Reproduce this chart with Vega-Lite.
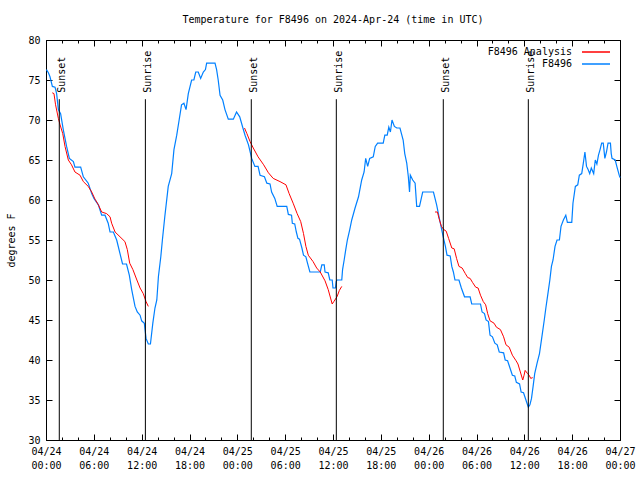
{
  "$schema": "https://vega.github.io/schema/vega-lite/v6.json",
  "width": 574,
  "height": 400,
  "autosize": "none",
  "padding": {"left": 46, "top": 40, "right": 20, "bottom": 40},
  "background": "white",
  "title": {"text": "Temperature for F8496 on 2024-Apr-24 (time in UTC)", "font": "DejaVu Sans Mono", "fontSize": 10, "fontWeight": "normal", "color": "black", "offset": 10, "anchor": "middle", "frame": "group"},
  "config": {
    "font": "DejaVu Sans Mono",
    "view": {"stroke": "black", "strokeWidth": 1},
    "axis": {"grid": false, "domain": false, "tickColor": "black", "tickWidth": 1, "labelFont": "DejaVu Sans Mono", "labelFontSize": 10, "labelColor": "black", "titleFont": "DejaVu Sans Mono", "titleFontSize": 10, "titleFontWeight": "normal", "titleColor": "black"}
  },
  "datasets": {
    "blue": [
      {"s":"F8496","t":"2024-04-24T00:03:00Z","v":76.3},{"s":"F8496","t":"2024-04-24T00:18:00Z","v":75.9},{"s":"F8496","t":"2024-04-24T00:30:00Z","v":75.4},{"s":"F8496","t":"2024-04-24T00:48:00Z","v":74.2},{"s":"F8496","t":"2024-04-24T01:08:00Z","v":74.1},{"s":"F8496","t":"2024-04-24T01:20:00Z","v":73.3},{"s":"F8496","t":"2024-04-24T01:33:00Z","v":71.3},{"s":"F8496","t":"2024-04-24T01:50:00Z","v":70.8},{"s":"F8496","t":"2024-04-24T02:10:00Z","v":68.8},{"s":"F8496","t":"2024-04-24T02:35:00Z","v":66.7},{"s":"F8496","t":"2024-04-24T02:56:00Z","v":65.2},{"s":"F8496","t":"2024-04-24T03:26:00Z","v":64.8},{"s":"F8496","t":"2024-04-24T03:38:00Z","v":64.1},{"s":"F8496","t":"2024-04-24T04:21:00Z","v":64.1},{"s":"F8496","t":"2024-04-24T04:41:00Z","v":62.9},{"s":"F8496","t":"2024-04-24T05:18:00Z","v":62.1},{"s":"F8496","t":"2024-04-24T05:44:00Z","v":60.8},{"s":"F8496","t":"2024-04-24T06:01:00Z","v":60.2},{"s":"F8496","t":"2024-04-24T06:34:00Z","v":59.4},{"s":"F8496","t":"2024-04-24T06:59:00Z","v":58.1},{"s":"F8496","t":"2024-04-24T07:24:00Z","v":58.1},{"s":"F8496","t":"2024-04-24T07:48:00Z","v":57.1},{"s":"F8496","t":"2024-04-24T08:02:00Z","v":56.0},{"s":"F8496","t":"2024-04-24T08:27:00Z","v":56.0},{"s":"F8496","t":"2024-04-24T08:52:00Z","v":55.0},{"s":"F8496","t":"2024-04-24T09:17:00Z","v":53.3},{"s":"F8496","t":"2024-04-24T09:36:00Z","v":52.0},{"s":"F8496","t":"2024-04-24T10:06:00Z","v":52.0},{"s":"F8496","t":"2024-04-24T10:27:00Z","v":50.6},{"s":"F8496","t":"2024-04-24T10:45:00Z","v":48.8},{"s":"F8496","t":"2024-04-24T11:10:00Z","v":46.7},{"s":"F8496","t":"2024-04-24T11:27:00Z","v":46.0},{"s":"F8496","t":"2024-04-24T11:48:00Z","v":45.6},{"s":"F8496","t":"2024-04-24T12:00:00Z","v":44.9},{"s":"F8496","t":"2024-04-24T12:20:00Z","v":44.6},{"s":"F8496","t":"2024-04-24T12:33:00Z","v":42.7},{"s":"F8496","t":"2024-04-24T12:50:00Z","v":42.0},{"s":"F8496","t":"2024-04-24T13:06:00Z","v":42.0},{"s":"F8496","t":"2024-04-24T13:24:00Z","v":44.6},{"s":"F8496","t":"2024-04-24T13:40:00Z","v":46.5},{"s":"F8496","t":"2024-04-24T13:54:00Z","v":47.5},{"s":"F8496","t":"2024-04-24T14:06:00Z","v":50.4},{"s":"F8496","t":"2024-04-24T14:24:00Z","v":52.9},{"s":"F8496","t":"2024-04-24T14:36:00Z","v":55.0},{"s":"F8496","t":"2024-04-24T14:54:00Z","v":57.9},{"s":"F8496","t":"2024-04-24T15:20:00Z","v":61.7},{"s":"F8496","t":"2024-04-24T15:46:00Z","v":63.3},{"s":"F8496","t":"2024-04-24T16:03:00Z","v":66.3},{"s":"F8496","t":"2024-04-24T16:24:00Z","v":68.1},{"s":"F8496","t":"2024-04-24T16:42:00Z","v":70.0},{"s":"F8496","t":"2024-04-24T17:00:00Z","v":71.9},{"s":"F8496","t":"2024-04-24T17:18:00Z","v":72.1},{"s":"F8496","t":"2024-04-24T17:34:00Z","v":71.3},{"s":"F8496","t":"2024-04-24T17:51:00Z","v":73.3},{"s":"F8496","t":"2024-04-24T18:16:00Z","v":75.0},{"s":"F8496","t":"2024-04-24T18:33:00Z","v":75.0},{"s":"F8496","t":"2024-04-24T18:47:00Z","v":76.0},{"s":"F8496","t":"2024-04-24T19:06:00Z","v":76.0},{"s":"F8496","t":"2024-04-24T19:24:00Z","v":75.2},{"s":"F8496","t":"2024-04-24T19:44:00Z","v":76.0},{"s":"F8496","t":"2024-04-24T20:00:00Z","v":76.3},{"s":"F8496","t":"2024-04-24T20:09:00Z","v":77.1},{"s":"F8496","t":"2024-04-24T21:12:00Z","v":77.1},{"s":"F8496","t":"2024-04-24T21:24:00Z","v":76.3},{"s":"F8496","t":"2024-04-24T21:36:00Z","v":75.0},{"s":"F8496","t":"2024-04-24T21:50:00Z","v":73.1},{"s":"F8496","t":"2024-04-24T22:10:00Z","v":72.5},{"s":"F8496","t":"2024-04-24T22:27:00Z","v":71.3},{"s":"F8496","t":"2024-04-24T22:52:00Z","v":70.1},{"s":"F8496","t":"2024-04-24T23:30:00Z","v":70.1},{"s":"F8496","t":"2024-04-24T23:54:00Z","v":71.0},
      {"s":"F8496","t":"2024-04-25T00:18:00Z","v":70.4},{"s":"F8496","t":"2024-04-25T00:42:00Z","v":69.0},{"s":"F8496","t":"2024-04-25T00:58:00Z","v":68.1},{"s":"F8496","t":"2024-04-25T01:24:00Z","v":66.9},{"s":"F8496","t":"2024-04-25T01:48:00Z","v":65.2},{"s":"F8496","t":"2024-04-25T02:12:00Z","v":64.2},{"s":"F8496","t":"2024-04-25T02:36:00Z","v":64.2},{"s":"F8496","t":"2024-04-25T02:51:00Z","v":63.1},{"s":"F8496","t":"2024-04-25T03:24:00Z","v":62.9},{"s":"F8496","t":"2024-04-25T03:42:00Z","v":62.1},{"s":"F8496","t":"2024-04-25T04:06:00Z","v":62.0},{"s":"F8496","t":"2024-04-25T04:18:00Z","v":61.0},{"s":"F8496","t":"2024-04-25T04:42:00Z","v":60.2},{"s":"F8496","t":"2024-04-25T05:00:00Z","v":59.2},{"s":"F8496","t":"2024-04-25T06:12:00Z","v":59.2},{"s":"F8496","t":"2024-04-25T06:24:00Z","v":58.2},{"s":"F8496","t":"2024-04-25T06:48:00Z","v":58.1},{"s":"F8496","t":"2024-04-25T06:54:00Z","v":57.1},{"s":"F8496","t":"2024-04-25T07:12:00Z","v":57.0},{"s":"F8496","t":"2024-04-25T07:24:00Z","v":56.0},{"s":"F8496","t":"2024-04-25T07:36:00Z","v":55.2},{"s":"F8496","t":"2024-04-25T07:48:00Z","v":55.1},{"s":"F8496","t":"2024-04-25T08:06:00Z","v":54.0},{"s":"F8496","t":"2024-04-25T08:18:00Z","v":53.1},{"s":"F8496","t":"2024-04-25T08:36:00Z","v":52.9},{"s":"F8496","t":"2024-04-25T08:48:00Z","v":52.1},{"s":"F8496","t":"2024-04-25T09:06:00Z","v":51.0},{"s":"F8496","t":"2024-04-25T10:24:00Z","v":51.0},{"s":"F8496","t":"2024-04-25T10:36:00Z","v":51.9},{"s":"F8496","t":"2024-04-25T10:54:00Z","v":51.9},{"s":"F8496","t":"2024-04-25T11:00:00Z","v":51.0},{"s":"F8496","t":"2024-04-25T11:24:00Z","v":50.9},{"s":"F8496","t":"2024-04-25T11:36:00Z","v":50.0},{"s":"F8496","t":"2024-04-25T11:54:00Z","v":50.0},{"s":"F8496","t":"2024-04-25T12:00:00Z","v":49.0},{"s":"F8496","t":"2024-04-25T12:18:00Z","v":49.0},{"s":"F8496","t":"2024-04-25T12:24:00Z","v":49.8},{"s":"F8496","t":"2024-04-25T12:30:00Z","v":50.0},{"s":"F8496","t":"2024-04-25T13:06:00Z","v":50.0},{"s":"F8496","t":"2024-04-25T13:12:00Z","v":51.3},{"s":"F8496","t":"2024-04-25T13:24:00Z","v":52.5},{"s":"F8496","t":"2024-04-25T13:36:00Z","v":53.8},{"s":"F8496","t":"2024-04-25T13:48:00Z","v":55.0},{"s":"F8496","t":"2024-04-25T14:06:00Z","v":56.3},{"s":"F8496","t":"2024-04-25T14:21:00Z","v":57.5},{"s":"F8496","t":"2024-04-25T14:46:00Z","v":59.0},{"s":"F8496","t":"2024-04-25T15:12:00Z","v":60.4},{"s":"F8496","t":"2024-04-25T15:36:00Z","v":62.5},{"s":"F8496","t":"2024-04-25T15:54:00Z","v":63.5},{"s":"F8496","t":"2024-04-25T16:06:00Z","v":65.2},{"s":"F8496","t":"2024-04-25T16:21:00Z","v":64.2},{"s":"F8496","t":"2024-04-25T16:36:00Z","v":65.2},{"s":"F8496","t":"2024-04-25T17:03:00Z","v":65.4},{"s":"F8496","t":"2024-04-25T17:18:00Z","v":66.7},{"s":"F8496","t":"2024-04-25T17:36:00Z","v":67.1},{"s":"F8496","t":"2024-04-25T18:18:00Z","v":67.1},{"s":"F8496","t":"2024-04-25T18:30:00Z","v":68.1},{"s":"F8496","t":"2024-04-25T18:48:00Z","v":68.1},{"s":"F8496","t":"2024-04-25T19:00:00Z","v":69.1},{"s":"F8496","t":"2024-04-25T19:12:00Z","v":68.5},{"s":"F8496","t":"2024-04-25T19:24:00Z","v":70.0},{"s":"F8496","t":"2024-04-25T19:42:00Z","v":69.2},{"s":"F8496","t":"2024-04-25T20:00:00Z","v":69.0},{"s":"F8496","t":"2024-04-25T20:24:00Z","v":69.0},{"s":"F8496","t":"2024-04-25T20:48:00Z","v":67.5},{"s":"F8496","t":"2024-04-25T21:00:00Z","v":65.8},{"s":"F8496","t":"2024-04-25T21:15:00Z","v":64.6},{"s":"F8496","t":"2024-04-25T21:27:00Z","v":62.9},{"s":"F8496","t":"2024-04-25T21:36:00Z","v":61.0},{"s":"F8496","t":"2024-04-25T21:42:00Z","v":63.1},{"s":"F8496","t":"2024-04-25T22:00:00Z","v":62.5},{"s":"F8496","t":"2024-04-25T22:18:00Z","v":62.1},{"s":"F8496","t":"2024-04-25T22:30:00Z","v":59.2},{"s":"F8496","t":"2024-04-25T22:51:00Z","v":59.2},{"s":"F8496","t":"2024-04-25T23:15:00Z","v":61.0},
      {"s":"F8496","t":"2024-04-26T00:36:00Z","v":61.0},{"s":"F8496","t":"2024-04-26T01:00:00Z","v":59.4},{"s":"F8496","t":"2024-04-26T01:18:00Z","v":57.9},{"s":"F8496","t":"2024-04-26T01:33:00Z","v":56.7},{"s":"F8496","t":"2024-04-26T01:48:00Z","v":55.5},{"s":"F8496","t":"2024-04-26T02:06:00Z","v":54.2},{"s":"F8496","t":"2024-04-26T02:18:00Z","v":53.1},{"s":"F8496","t":"2024-04-26T02:42:00Z","v":53.0},{"s":"F8496","t":"2024-04-26T02:54:00Z","v":51.7},{"s":"F8496","t":"2024-04-26T03:06:00Z","v":51.0},{"s":"F8496","t":"2024-04-26T03:18:00Z","v":50.0},{"s":"F8496","t":"2024-04-26T03:48:00Z","v":50.0},{"s":"F8496","t":"2024-04-26T04:06:00Z","v":49.0},{"s":"F8496","t":"2024-04-26T04:30:00Z","v":47.9},{"s":"F8496","t":"2024-04-26T05:12:00Z","v":47.9},{"s":"F8496","t":"2024-04-26T05:24:00Z","v":47.0},{"s":"F8496","t":"2024-04-26T06:30:00Z","v":47.0},{"s":"F8496","t":"2024-04-26T06:42:00Z","v":46.0},{"s":"F8496","t":"2024-04-26T07:00:00Z","v":45.8},{"s":"F8496","t":"2024-04-26T07:12:00Z","v":45.0},{"s":"F8496","t":"2024-04-26T07:30:00Z","v":44.8},{"s":"F8496","t":"2024-04-26T07:42:00Z","v":43.1},{"s":"F8496","t":"2024-04-26T08:00:00Z","v":42.9},{"s":"F8496","t":"2024-04-26T08:18:00Z","v":42.1},{"s":"F8496","t":"2024-04-26T08:36:00Z","v":41.9},{"s":"F8496","t":"2024-04-26T08:51:00Z","v":41.0},{"s":"F8496","t":"2024-04-26T09:24:00Z","v":40.9},{"s":"F8496","t":"2024-04-26T09:36:00Z","v":40.0},{"s":"F8496","t":"2024-04-26T09:54:00Z","v":39.9},{"s":"F8496","t":"2024-04-26T10:12:00Z","v":39.0},{"s":"F8496","t":"2024-04-26T10:30:00Z","v":38.1},{"s":"F8496","t":"2024-04-26T10:48:00Z","v":38.0},{"s":"F8496","t":"2024-04-26T11:00:00Z","v":37.2},{"s":"F8496","t":"2024-04-26T11:24:00Z","v":37.0},{"s":"F8496","t":"2024-04-26T11:36:00Z","v":36.0},{"s":"F8496","t":"2024-04-26T11:54:00Z","v":35.9},{"s":"F8496","t":"2024-04-26T12:12:00Z","v":35.0},{"s":"F8496","t":"2024-04-26T12:30:00Z","v":34.1},{"s":"F8496","t":"2024-04-26T12:42:00Z","v":34.4},{"s":"F8496","t":"2024-04-26T12:54:00Z","v":35.2},{"s":"F8496","t":"2024-04-26T13:06:00Z","v":36.7},{"s":"F8496","t":"2024-04-26T13:18:00Z","v":38.3},{"s":"F8496","t":"2024-04-26T13:36:00Z","v":39.6},{"s":"F8496","t":"2024-04-26T13:54:00Z","v":40.8},{"s":"F8496","t":"2024-04-26T14:12:00Z","v":42.9},{"s":"F8496","t":"2024-04-26T14:30:00Z","v":45.0},{"s":"F8496","t":"2024-04-26T14:42:00Z","v":46.5},{"s":"F8496","t":"2024-04-26T14:54:00Z","v":47.9},{"s":"F8496","t":"2024-04-26T15:12:00Z","v":50.0},{"s":"F8496","t":"2024-04-26T15:24:00Z","v":51.7},{"s":"F8496","t":"2024-04-26T15:36:00Z","v":52.5},{"s":"F8496","t":"2024-04-26T15:51:00Z","v":54.2},{"s":"F8496","t":"2024-04-26T16:06:00Z","v":55.0},{"s":"F8496","t":"2024-04-26T16:24:00Z","v":55.0},{"s":"F8496","t":"2024-04-26T16:36:00Z","v":56.7},{"s":"F8496","t":"2024-04-26T16:54:00Z","v":57.5},{"s":"F8496","t":"2024-04-26T17:12:00Z","v":58.1},{"s":"F8496","t":"2024-04-26T17:24:00Z","v":57.2},{"s":"F8496","t":"2024-04-26T17:57:00Z","v":57.2},{"s":"F8496","t":"2024-04-26T18:06:00Z","v":59.6},{"s":"F8496","t":"2024-04-26T18:24:00Z","v":61.7},{"s":"F8496","t":"2024-04-26T18:42:00Z","v":61.9},{"s":"F8496","t":"2024-04-26T18:54:00Z","v":63.1},{"s":"F8496","t":"2024-04-26T19:12:00Z","v":63.3},{"s":"F8496","t":"2024-04-26T19:24:00Z","v":64.6},{"s":"F8496","t":"2024-04-26T19:36:00Z","v":66.0},{"s":"F8496","t":"2024-04-26T19:48:00Z","v":64.2},{"s":"F8496","t":"2024-04-26T20:00:00Z","v":63.8},{"s":"F8496","t":"2024-04-26T20:12:00Z","v":63.3},{"s":"F8496","t":"2024-04-26T20:24:00Z","v":64.0},{"s":"F8496","t":"2024-04-26T20:42:00Z","v":63.3},{"s":"F8496","t":"2024-04-26T20:54:00Z","v":65.0},{"s":"F8496","t":"2024-04-26T21:06:00Z","v":64.5},{"s":"F8496","t":"2024-04-26T21:18:00Z","v":65.6},{"s":"F8496","t":"2024-04-26T21:30:00Z","v":66.3},{"s":"F8496","t":"2024-04-26T21:42:00Z","v":67.1},{"s":"F8496","t":"2024-04-26T21:54:00Z","v":67.1},{"s":"F8496","t":"2024-04-26T22:06:00Z","v":65.2},{"s":"F8496","t":"2024-04-26T22:18:00Z","v":66.0},{"s":"F8496","t":"2024-04-26T22:30:00Z","v":67.1},{"s":"F8496","t":"2024-04-26T22:48:00Z","v":67.1},{"s":"F8496","t":"2024-04-26T22:54:00Z","v":65.8},{"s":"F8496","t":"2024-04-26T23:00:00Z","v":65.2},{"s":"F8496","t":"2024-04-26T23:24:00Z","v":65.0},{"s":"F8496","t":"2024-04-26T23:36:00Z","v":64.2},{"s":"F8496","t":"2024-04-26T23:54:00Z","v":63.1},{"s":"F8496","t":"2024-04-27T00:00:00Z","v":62.8}
    ],
    "red": [
      {"s":"F8496 Analysis","seg":1,"t":"2024-04-24T00:47:00Z","v":73.4},{"s":"F8496 Analysis","seg":1,"t":"2024-04-24T01:00:00Z","v":73.3},{"s":"F8496 Analysis","seg":1,"t":"2024-04-24T01:12:00Z","v":71.9},{"s":"F8496 Analysis","seg":1,"t":"2024-04-24T01:33:00Z","v":70.2},{"s":"F8496 Analysis","seg":1,"t":"2024-04-24T01:46:00Z","v":69.4},{"s":"F8496 Analysis","seg":1,"t":"2024-04-24T02:06:00Z","v":68.3},{"s":"F8496 Analysis","seg":1,"t":"2024-04-24T02:23:00Z","v":66.7},{"s":"F8496 Analysis","seg":1,"t":"2024-04-24T02:48:00Z","v":65.0},{"s":"F8496 Analysis","seg":1,"t":"2024-04-24T03:12:00Z","v":64.4},{"s":"F8496 Analysis","seg":1,"t":"2024-04-24T03:38:00Z","v":63.5},{"s":"F8496 Analysis","seg":1,"t":"2024-04-24T04:16:00Z","v":63.1},{"s":"F8496 Analysis","seg":1,"t":"2024-04-24T04:41:00Z","v":62.3},{"s":"F8496 Analysis","seg":1,"t":"2024-04-24T05:18:00Z","v":61.7},{"s":"F8496 Analysis","seg":1,"t":"2024-04-24T05:44:00Z","v":61.0},{"s":"F8496 Analysis","seg":1,"t":"2024-04-24T06:09:00Z","v":60.1},{"s":"F8496 Analysis","seg":1,"t":"2024-04-24T06:34:00Z","v":59.4},{"s":"F8496 Analysis","seg":1,"t":"2024-04-24T06:59:00Z","v":58.5},{"s":"F8496 Analysis","seg":1,"t":"2024-04-24T07:36:00Z","v":58.3},{"s":"F8496 Analysis","seg":1,"t":"2024-04-24T08:02:00Z","v":57.9},{"s":"F8496 Analysis","seg":1,"t":"2024-04-24T08:14:00Z","v":57.1},{"s":"F8496 Analysis","seg":1,"t":"2024-04-24T08:40:00Z","v":56.0},{"s":"F8496 Analysis","seg":1,"t":"2024-04-24T09:17:00Z","v":55.4},{"s":"F8496 Analysis","seg":1,"t":"2024-04-24T09:54:00Z","v":54.8},{"s":"F8496 Analysis","seg":1,"t":"2024-04-24T10:12:00Z","v":53.8},{"s":"F8496 Analysis","seg":1,"t":"2024-04-24T10:30:00Z","v":52.1},{"s":"F8496 Analysis","seg":1,"t":"2024-04-24T10:54:00Z","v":51.3},{"s":"F8496 Analysis","seg":1,"t":"2024-04-24T11:24:00Z","v":50.0},{"s":"F8496 Analysis","seg":1,"t":"2024-04-24T11:48:00Z","v":49.0},{"s":"F8496 Analysis","seg":1,"t":"2024-04-24T12:12:00Z","v":48.3},{"s":"F8496 Analysis","seg":1,"t":"2024-04-24T12:33:00Z","v":47.3},{"s":"F8496 Analysis","seg":1,"t":"2024-04-24T12:50:00Z","v":46.7},
      {"s":"F8496 Analysis","seg":2,"t":"2024-04-25T00:54:00Z","v":69.0},{"s":"F8496 Analysis","seg":2,"t":"2024-04-25T01:12:00Z","v":68.3},{"s":"F8496 Analysis","seg":2,"t":"2024-04-25T01:36:00Z","v":67.3},{"s":"F8496 Analysis","seg":2,"t":"2024-04-25T02:00:00Z","v":66.5},{"s":"F8496 Analysis","seg":2,"t":"2024-04-25T02:36:00Z","v":65.4},{"s":"F8496 Analysis","seg":2,"t":"2024-04-25T03:18:00Z","v":64.4},{"s":"F8496 Analysis","seg":2,"t":"2024-04-25T03:54:00Z","v":63.4},{"s":"F8496 Analysis","seg":2,"t":"2024-04-25T04:30:00Z","v":62.7},{"s":"F8496 Analysis","seg":2,"t":"2024-04-25T05:21:00Z","v":62.3},{"s":"F8496 Analysis","seg":2,"t":"2024-04-25T06:06:00Z","v":61.9},{"s":"F8496 Analysis","seg":2,"t":"2024-04-25T06:30:00Z","v":60.8},{"s":"F8496 Analysis","seg":2,"t":"2024-04-25T07:00:00Z","v":59.6},{"s":"F8496 Analysis","seg":2,"t":"2024-04-25T07:30:00Z","v":58.3},{"s":"F8496 Analysis","seg":2,"t":"2024-04-25T07:57:00Z","v":57.3},{"s":"F8496 Analysis","seg":2,"t":"2024-04-25T08:18:00Z","v":55.8},{"s":"F8496 Analysis","seg":2,"t":"2024-04-25T08:36:00Z","v":54.2},{"s":"F8496 Analysis","seg":2,"t":"2024-04-25T08:54:00Z","v":53.1},{"s":"F8496 Analysis","seg":2,"t":"2024-04-25T09:30:00Z","v":52.3},{"s":"F8496 Analysis","seg":2,"t":"2024-04-25T09:57:00Z","v":51.5},{"s":"F8496 Analysis","seg":2,"t":"2024-04-25T10:24:00Z","v":51.0},{"s":"F8496 Analysis","seg":2,"t":"2024-04-25T11:00:00Z","v":49.9},{"s":"F8496 Analysis","seg":2,"t":"2024-04-25T11:24:00Z","v":48.8},{"s":"F8496 Analysis","seg":2,"t":"2024-04-25T11:54:00Z","v":47.0},{"s":"F8496 Analysis","seg":2,"t":"2024-04-25T12:06:00Z","v":47.3},{"s":"F8496 Analysis","seg":2,"t":"2024-04-25T12:30:00Z","v":47.9},{"s":"F8496 Analysis","seg":2,"t":"2024-04-25T12:48:00Z","v":48.7},{"s":"F8496 Analysis","seg":2,"t":"2024-04-25T13:06:00Z","v":49.2},
      {"s":"F8496 Analysis","seg":3,"t":"2024-04-26T00:48:00Z","v":58.5},{"s":"F8496 Analysis","seg":3,"t":"2024-04-26T01:06:00Z","v":58.5},{"s":"F8496 Analysis","seg":3,"t":"2024-04-26T01:18:00Z","v":57.7},{"s":"F8496 Analysis","seg":3,"t":"2024-04-26T01:36:00Z","v":56.7},{"s":"F8496 Analysis","seg":3,"t":"2024-04-26T01:54:00Z","v":56.3},{"s":"F8496 Analysis","seg":3,"t":"2024-04-26T02:12:00Z","v":56.1},{"s":"F8496 Analysis","seg":3,"t":"2024-04-26T02:30:00Z","v":55.2},{"s":"F8496 Analysis","seg":3,"t":"2024-04-26T02:54:00Z","v":54.0},{"s":"F8496 Analysis","seg":3,"t":"2024-04-26T03:12:00Z","v":53.9},{"s":"F8496 Analysis","seg":3,"t":"2024-04-26T03:30:00Z","v":52.7},{"s":"F8496 Analysis","seg":3,"t":"2024-04-26T03:48:00Z","v":51.7},{"s":"F8496 Analysis","seg":3,"t":"2024-04-26T04:12:00Z","v":51.5},{"s":"F8496 Analysis","seg":3,"t":"2024-04-26T04:36:00Z","v":50.8},{"s":"F8496 Analysis","seg":3,"t":"2024-04-26T04:54:00Z","v":50.3},{"s":"F8496 Analysis","seg":3,"t":"2024-04-26T05:12:00Z","v":50.2},{"s":"F8496 Analysis","seg":3,"t":"2024-04-26T05:30:00Z","v":49.7},{"s":"F8496 Analysis","seg":3,"t":"2024-04-26T05:54:00Z","v":49.1},{"s":"F8496 Analysis","seg":3,"t":"2024-04-26T06:12:00Z","v":49.0},{"s":"F8496 Analysis","seg":3,"t":"2024-04-26T06:30:00Z","v":48.1},{"s":"F8496 Analysis","seg":3,"t":"2024-04-26T06:51:00Z","v":47.3},{"s":"F8496 Analysis","seg":3,"t":"2024-04-26T07:09:00Z","v":46.9},{"s":"F8496 Analysis","seg":3,"t":"2024-04-26T07:24:00Z","v":45.8},{"s":"F8496 Analysis","seg":3,"t":"2024-04-26T07:42:00Z","v":44.9},{"s":"F8496 Analysis","seg":3,"t":"2024-04-26T08:12:00Z","v":44.6},{"s":"F8496 Analysis","seg":3,"t":"2024-04-26T08:30:00Z","v":44.1},{"s":"F8496 Analysis","seg":3,"t":"2024-04-26T09:00:00Z","v":43.8},{"s":"F8496 Analysis","seg":3,"t":"2024-04-26T09:24:00Z","v":42.9},{"s":"F8496 Analysis","seg":3,"t":"2024-04-26T09:42:00Z","v":41.9},{"s":"F8496 Analysis","seg":3,"t":"2024-04-26T10:06:00Z","v":41.6},{"s":"F8496 Analysis","seg":3,"t":"2024-04-26T10:30:00Z","v":40.6},{"s":"F8496 Analysis","seg":3,"t":"2024-04-26T10:58:00Z","v":39.9},{"s":"F8496 Analysis","seg":3,"t":"2024-04-26T11:12:00Z","v":39.5},{"s":"F8496 Analysis","seg":3,"t":"2024-04-26T11:30:00Z","v":38.5},{"s":"F8496 Analysis","seg":3,"t":"2024-04-26T11:48:00Z","v":37.5},{"s":"F8496 Analysis","seg":3,"t":"2024-04-26T11:58:00Z","v":38.1},{"s":"F8496 Analysis","seg":3,"t":"2024-04-26T12:06:00Z","v":38.7},{"s":"F8496 Analysis","seg":3,"t":"2024-04-26T12:24:00Z","v":38.3},{"s":"F8496 Analysis","seg":3,"t":"2024-04-26T12:36:00Z","v":38.1},{"s":"F8496 Analysis","seg":3,"t":"2024-04-26T12:48:00Z","v":37.7},{"s":"F8496 Analysis","seg":3,"t":"2024-04-26T13:03:00Z","v":37.8}
    ],
    "sun": [
      {"t":"2024-04-24T01:40:00Z","label":"Sunset"},{"t":"2024-04-24T12:28:00Z","label":"Sunrise"},
      {"t":"2024-04-25T01:45:00Z","label":"Sunset"},{"t":"2024-04-25T12:25:00Z","label":"Sunrise"},
      {"t":"2024-04-26T01:50:00Z","label":"Sunset"},{"t":"2024-04-26T12:30:00Z","label":"Sunrise"}
    ]
  },
  "layer": [
    {
      "data": {"name": "blue"},
      "mark": {"type": "line", "strokeWidth": 1.2},
      "encoding": {
        "x": {"field": "t", "type": "temporal", "scale": {"type": "utc", "domain": [1713916800000, 1714176000000]},
          "axis": {"orient": "bottom", "title": null, "values": [1713916800000,1713938400000,1713960000000,1713981600000,1714003200000,1714024800000,1714046400000,1714068000000,1714089600000,1714111200000,1714132800000,1714154400000,1714176000000],
            "tickSize": -6, "labelPadding": 12, "labelExpr": "[utcFormat(datum.value, '%m/%d'), utcFormat(datum.value, '%H:%M')]", "labelLineHeight": 14, "labelFlush": false, "labelOverlap": false}},
        "y": {"field": "v", "type": "quantitative", "scale": {"domain": [30, 80], "nice": false, "zero": false},
          "axis": {"orient": "left", "title": "degrees F", "values": [30,35,40,45,50,55,60,65,70,75,80], "tickSize": -6, "labelPadding": 12, "titlePadding": 11}},
        "color": {"field": "s", "type": "nominal", "scale": {"domain": ["F8496 Analysis", "F8496"], "range": ["#ff0000", "#0080ff"]},
          "legend": {"title": null, "orient": "top-right", "offset": 7, "padding": 0, "symbolType": "M-3.5,0H3.5", "symbolSize": 64, "symbolStrokeWidth": 1.5, "labelAlign": "right", "labelOffset": -29, "labelFont": "DejaVu Sans Mono", "labelFontSize": 10, "labelColor": "black", "rowPadding": 2}}
      }
    },
    {
      "data": {"name": "red"},
      "mark": {"type": "line", "strokeWidth": 1},
      "encoding": {
        "x": {"field": "t", "type": "temporal", "scale": {"type": "utc", "domain": [1713916800000, 1714176000000]},
          "axis": {"orient": "top", "title": null, "labels": false, "tickSize": -3, "values": [1713916800000,1713924000000,1713931200000,1713938400000,1713945600000,1713952800000,1713960000000,1713967200000,1713974400000,1713981600000,1713988800000,1713996000000,1714003200000,1714010400000,1714017600000,1714024800000,1714032000000,1714039200000,1714046400000,1714053600000,1714060800000,1714068000000,1714075200000,1714082400000,1714089600000,1714096800000,1714104000000,1714111200000,1714118400000,1714125600000,1714132800000,1714140000000,1714147200000,1714154400000,1714161600000,1714168800000,1714176000000]}},
        "y": {"field": "v", "type": "quantitative", "scale": {"domain": [30, 80], "nice": false, "zero": false},
          "axis": {"orient": "right", "title": null, "labels": false, "values": [30,35,40,45,50,55,60,65,70,75,80], "tickSize": -6}},
        "color": {"field": "s", "type": "nominal", "scale": {"domain": ["F8496 Analysis", "F8496"], "range": ["#ff0000", "#0080ff"]}},
        "detail": {"field": "seg", "type": "nominal"}
      }
    },
    {
      "data": {"name": "sun"},
      "mark": {"type": "rule", "color": "black", "strokeWidth": 1},
      "encoding": {
        "x": {"field": "t", "type": "temporal", "scale": {"type": "utc", "domain": [1713916800000, 1714176000000]},
          "axis": {"orient": "bottom", "title": null, "labels": false, "tickSize": -3, "values": [1713916800000,1713924000000,1713931200000,1713938400000,1713945600000,1713952800000,1713960000000,1713967200000,1713974400000,1713981600000,1713988800000,1713996000000,1714003200000,1714010400000,1714017600000,1714024800000,1714032000000,1714039200000,1714046400000,1714053600000,1714060800000,1714068000000,1714075200000,1714082400000,1714089600000,1714096800000,1714104000000,1714111200000,1714118400000,1714125600000,1714132800000,1714140000000,1714147200000,1714154400000,1714161600000,1714168800000,1714176000000]}},
        "y": {"datum": 72.6, "type": "quantitative", "axis": null},
        "y2": {"datum": 30}
      }
    },
    {
      "data": {"name": "sun"},
      "mark": {"type": "text", "angle": 270, "align": "left", "baseline": "top", "dy": -2, "font": "DejaVu Sans Mono", "fontSize": 10, "color": "black"},
      "encoding": {
        "x": {"field": "t", "type": "temporal", "scale": {"type": "utc", "domain": [1713916800000, 1714176000000]},
          "axis": {"orient": "top", "title": null, "labels": false, "tickSize": -6, "values": [1713916800000,1713938400000,1713960000000,1713981600000,1714003200000,1714024800000,1714046400000,1714068000000,1714089600000,1714111200000,1714132800000,1714154400000,1714176000000]}},
        "y": {"datum": 73.4, "type": "quantitative", "axis": null},
        "text": {"field": "label"}
      }
    }
  ],
  "resolve": {"axis": {"x": "independent", "y": "independent"}}
}
